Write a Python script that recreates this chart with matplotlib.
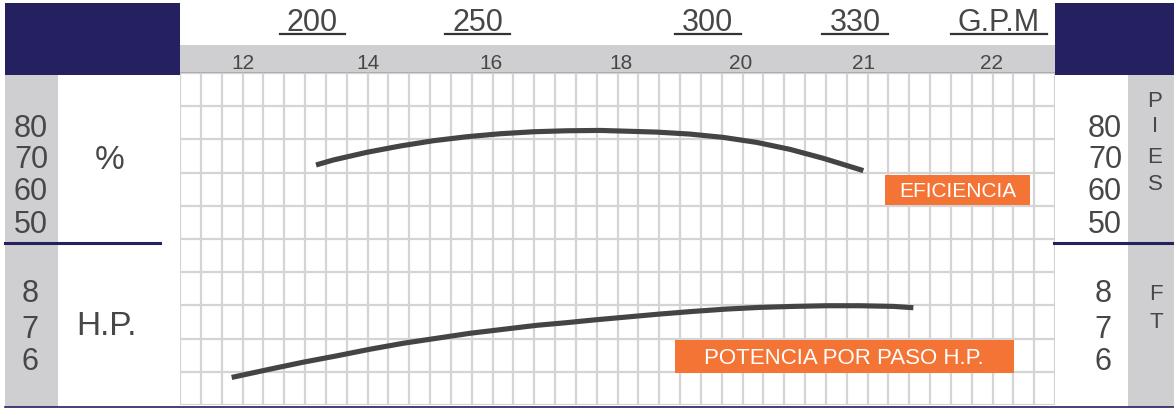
import matplotlib
matplotlib.use('Agg')
import matplotlib.pyplot as plt
import matplotlib.transforms as mtransforms
from matplotlib.patches import Rectangle

plt.rcParams['font.family'] = ['Liberation Sans', 'DejaVu Sans']

# ---- data (x in grid columns, y in grid rows) ----
eff_x = [6.53, 7.36, 8.96, 10.56, 12.16, 13.76, 15.36, 16.96, 18.56, 20.16,
         21.28, 22.88, 24.48, 26.08, 27.68, 29.28, 30.88, 32.80]
eff_y = [7.23, 7.38, 7.61, 7.80, 7.96, 8.08, 8.17, 8.23, 8.26, 8.27,
         8.25, 8.22, 8.16, 8.06, 7.91, 7.70, 7.43, 7.06]

hp_x = [2.48, 4.32, 5.92, 7.52, 9.12, 10.72, 12.32, 13.92, 15.52, 17.12, 18.56,
        19.84, 21.44, 23.04, 24.64, 26.24, 27.84, 29.44, 31.04, 32.64, 34.24, 35.20]
hp_y = [0.83, 1.08, 1.29, 1.48, 1.68, 1.86, 2.01, 2.16, 2.28, 2.40, 2.48,
        2.56, 2.65, 2.74, 2.82, 2.89, 2.94, 2.97, 2.99, 2.99, 2.97, 2.93]

band_pos = [3.0, 9.0, 14.95, 21.15, 26.9, 32.8, 38.95]
band_labels = ['12', '14', '16', '18', '20', '21', '22']

gpm_pos = [6.34, 14.30, 25.34, 32.4, 39.31]
gpm_labels = ['200', '250', '300', '330', 'G.P.M']

pct_labels = ['80', '70', '60', '50']
pct_base = [137, 168, 200, 233]
hp_labels = ['8', '7', '6']
hp_base = [302, 338, 370]
pies = ['P', 'I', 'E', 'S']
pies_base = [107, 132, 163, 190]
ft = ['F', 'T']
ft_base = [300, 328]

W, H = 1174, 408
navy = '#252060'
grey = '#cfcfd2'
ink = '#474747'
orange = '#f37435'
gridc = '#d4d4d4'

fig = plt.figure(figsize=(W / 100, H / 100), dpi=100)

# grid
ax = fig.add_axes([180 / W, 1 - 405 / H, 875 / W, 332 / H])
ax.set_xlim(0, 42)
ax.set_ylim(0, 10)
ax.set_xticks(range(43))
ax.set_yticks(range(11))
ax.grid(True, color=gridc, lw=1.6)
ax.tick_params(length=0, labelbottom=False, labelleft=False)
for s in ax.spines.values():
    s.set_visible(False)
ax.plot(eff_x, eff_y, color='#444444', lw=3.7, solid_capstyle='butt')
ax.plot(hp_x, hp_y, color='#444444', lw=3.7, solid_capstyle='butt')

# band with scale labels
band = fig.add_axes([180 / W, 1 - 73 / H, 875 / W, 28 / H])
band.set_facecolor(grey)
band.set_xlim(0, 42)
band.set_ylim(28, 0)
band.set_xticks([])
band.set_yticks([])
for s in band.spines.values():
    s.set_visible(False)
band.axhline(28, color='#a9a9ab', lw=2)
for p, l in zip(band_pos, band_labels):
    band.text(p, 24, l, fontsize=15, color=ink, ha='center', va='baseline')

# overlay for frame pieces
bg = fig.add_axes([0, 0, 1, 1])
bg.set_xlim(0, W)
bg.set_ylim(H, 0)
bg.axis('off')
bg.patch.set_alpha(0)

bg.add_patch(Rectangle((5, 3), 175, 71.5, color=navy, lw=0))
bg.add_patch(Rectangle((1055, 3), 119, 71.5, color=navy, lw=0))
bg.add_patch(Rectangle((5, 74.5), 53, 332, color=grey, lw=0))
bg.add_patch(Rectangle((1128, 74.5), 46, 332, color=grey, lw=0))
bg.plot([5, 160], [243, 243], color=navy, lw=2.2)
bg.plot([1054, 1174], [243, 243], color=navy, lw=2.2)
bg.plot([5, 1174], [407, 407], color=navy, lw=1.2)

# G.P.M labels with underline
tr = mtransforms.blended_transform_factory(ax.transData, bg.transData)
gtexts = []
for p, l in zip(gpm_pos, gpm_labels):
    gtexts.append(bg.text(p, 31, l, transform=tr, fontsize=22, color=ink,
                          ha='center', va='baseline'))
fig.canvas.draw()
inv = bg.transData.inverted()
for t in gtexts:
    bb = t.get_window_extent()
    x0 = inv.transform((bb.x0, bb.y0))[0]
    x1 = inv.transform((bb.x1, bb.y0))[0]
    bg.plot([x0 - 7, x1 + 7], [34, 34], color='#333333', lw=1.6)

# side labels
for l, b in zip(pct_labels, pct_base):
    bg.text(31, b, l, fontsize=22, color=ink, ha='center', va='baseline')
    bg.text(1105, b, l, fontsize=22, color=ink, ha='center', va='baseline')
bg.text(110, 169, '%', fontsize=24, color=ink, ha='center', va='baseline')
for l, b in zip(hp_labels, hp_base):
    bg.text(30, b, l, fontsize=22, color=ink, ha='center', va='baseline')
    bg.text(1103, b, l, fontsize=22, color=ink, ha='center', va='baseline')
bg.text(106, 335, 'H.P.', fontsize=24, color=ink, ha='center', va='baseline')
for l, b in zip(pies, pies_base):
    bg.text(1155, b, l, fontsize=16, color=ink, ha='center', va='baseline')
for l, b in zip(ft, ft_base):
    bg.text(1156, b, l, fontsize=16, color=ink, ha='center', va='baseline')

# orange tags
bg.add_patch(Rectangle((885, 175), 145, 30, color=orange, lw=0))
bg.text(958, 197, 'EFICIENCIA', fontsize=15, color='white', ha='center', va='baseline')
bg.add_patch(Rectangle((675, 340), 339, 33, color=orange, lw=0))
bg.text(844, 364, 'POTENCIA POR PASO H.P.', fontsize=16, color='white', ha='center', va='baseline')

fig.savefig('out.png', dpi=100)
